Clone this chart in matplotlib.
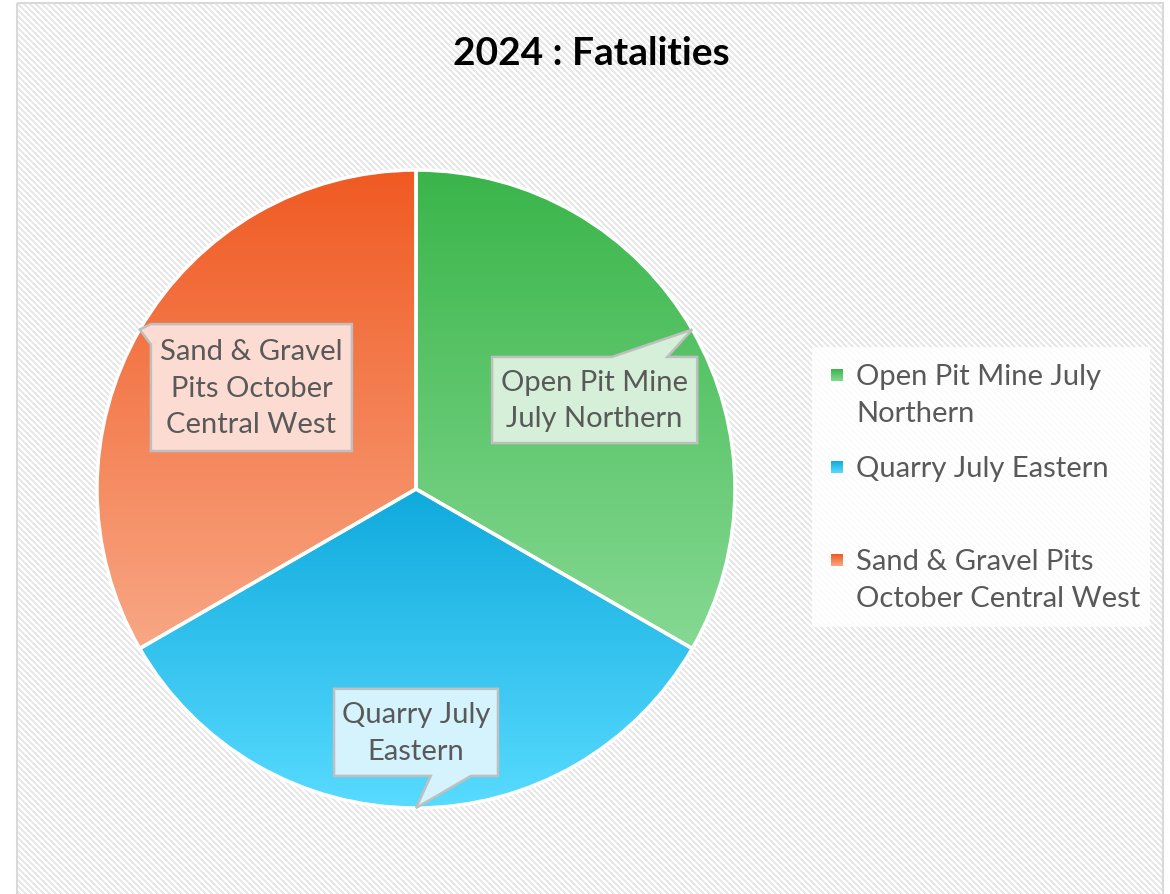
import numpy as np
import matplotlib.pyplot as plt
from matplotlib.patches import Polygon, Rectangle
from matplotlib.colors import LinearSegmentedColormap

plt.rcParams['font.family'] = ['Lato', 'DejaVu Sans']

# data
categories = ["Open Pit Mine July Northern", "Quarry July Eastern",
              "Sand & Gravel Pits October Central West"]
fatalities = [1, 1, 1]
slice_labels = ["Open Pit Mine\nJuly Northern", "Quarry July\nEastern",
                "Sand & Gravel\nPits October\nCentral West"]
legend_labels = ["Open Pit Mine July\nNorthern", "Quarry July Eastern",
                 "Sand & Gravel Pits\nOctober Central West"]
title = "2024 : Fatalities"

top_colors = ["#3ab54a", "#10aadd", "#f05a22"]
bottom_colors = ["#86d993", "#58dbff", "#f8a785"]
box_colors = ["#d6efd9", "#d5f3fc", "#fcdcd2"]

# callout layout (pie units): centre, size, tail side and where on that side
box_centers = [(0.560, 0.279), (0.0, -0.763), (-0.516, 0.318)]
box_sizes = [(0.643, 0.270), (0.514, 0.273), (0.630, 0.398)]
tail_specs = [("top", 0.585, 0.854), ("bottom", 0.59, 0.835), ("left", 0.0, 0.16)]

legend_rows = [376, 468, 561]

fig = plt.figure(figsize=(11.7, 8.95), dpi=100)

# background with diagonal stripes
bg = fig.add_axes([0, 0, 1, 1])
bg.set_xlim(0, 1170)
bg.set_ylim(895, 0)
bg.axis('off')
yy, xx = np.mgrid[4:895, 17:1163]
stripes = ((xx - yy) % 6) < 3
img = np.ones(stripes.shape + (3,))
img[stripes] = np.array([232, 232, 232]) / 255
bg.imshow(img, extent=(17, 1163, 895, 4), interpolation='nearest', aspect='auto', zorder=0)
bg.add_patch(Rectangle((17, 4), 1146, 900, fill=False, edgecolor='#d9d9d9', lw=1.5, zorder=1))

bg.text(591, 53, title, ha='center', va='center', fontsize=28, fontweight='bold', color='black')


def gradient_img(ax, extent, c_top, c_bot, clip=None, z=2):
    cmap = LinearSegmentedColormap.from_list('g', [c_top, c_bot])
    grad = np.linspace(0, 1, 256).reshape(-1, 1)
    im = ax.imshow(grad, cmap=cmap, extent=extent, aspect='auto', zorder=z,
                   interpolation='bilinear')
    if clip is not None:
        im.set_clip_path(clip)
    return im


# pie
ax = fig.add_axes([97 / 1170, 86 / 895, 638 / 1170, 638 / 895])
wedges, _ = ax.pie(fatalities, startangle=90, counterclock=False, radius=1,
                   wedgeprops=dict(edgecolor='white', linewidth=2.5))
ax.set_xlim(-1, 1)
ax.set_ylim(-1, 1)
ax.set_aspect('equal')

for i, w in enumerate(wedges):
    w.set_facecolor('none')
    w.set_zorder(3)
    w.set_clip_on(False)
    ext = w.get_path().get_extents()
    gradient_img(ax, (ext.x0, ext.x1, ext.y0, ext.y1), top_colors[i], bottom_colors[i], clip=w)

    mid = np.deg2rad((w.theta1 + w.theta2) / 2)
    tip = (np.cos(mid), np.sin(mid))
    cx, cy = box_centers[i]
    bw, bh = box_sizes[i]
    x0, x1, y0, y1 = cx - bw / 2, cx + bw / 2, cy - bh / 2, cy + bh / 2
    side, f0, f1 = tail_specs[i]
    if side == "top":
        pts = [(x0, y1), (x0 + f0 * bw, y1), tip, (x0 + f1 * bw, y1), (x1, y1), (x1, y0), (x0, y0)]
    elif side == "bottom":
        pts = [(x0, y1), (x1, y1), (x1, y0), (x0 + f1 * bw, y0), tip, (x0 + f0 * bw, y0), (x0, y0)]
    else:
        pts = [(x0, y1), (x1, y1), (x1, y0), (x0, y0), (x0, y1 - f1 * bh), tip, (x0, y1 - f0 * bh)]
    ax.add_patch(Polygon(pts, closed=True, facecolor=box_colors[i], edgecolor='#bfbfbf',
                         lw=1.8, zorder=4, clip_on=False, joinstyle='miter'))
    ax.text(cx, cy, slice_labels[i], ha='center', va='center', fontsize=21,
            color='#595959', linespacing=1.52, zorder=5)

# legend
bg.add_patch(Rectangle((812, 348), 338, 280, facecolor='white', edgecolor='none',
                       alpha=0.85, zorder=2))
for i, ry in enumerate(legend_rows):
    gradient_img(bg, (831, 843, ry + 6, ry - 6), top_colors[i], bottom_colors[i], z=3)
    bg.text(856, ry - 12, legend_labels[i], ha='left', va='top', fontsize=21,
            color='#595959', linespacing=1.52, zorder=4)

fig.savefig('out.png', dpi=100)
